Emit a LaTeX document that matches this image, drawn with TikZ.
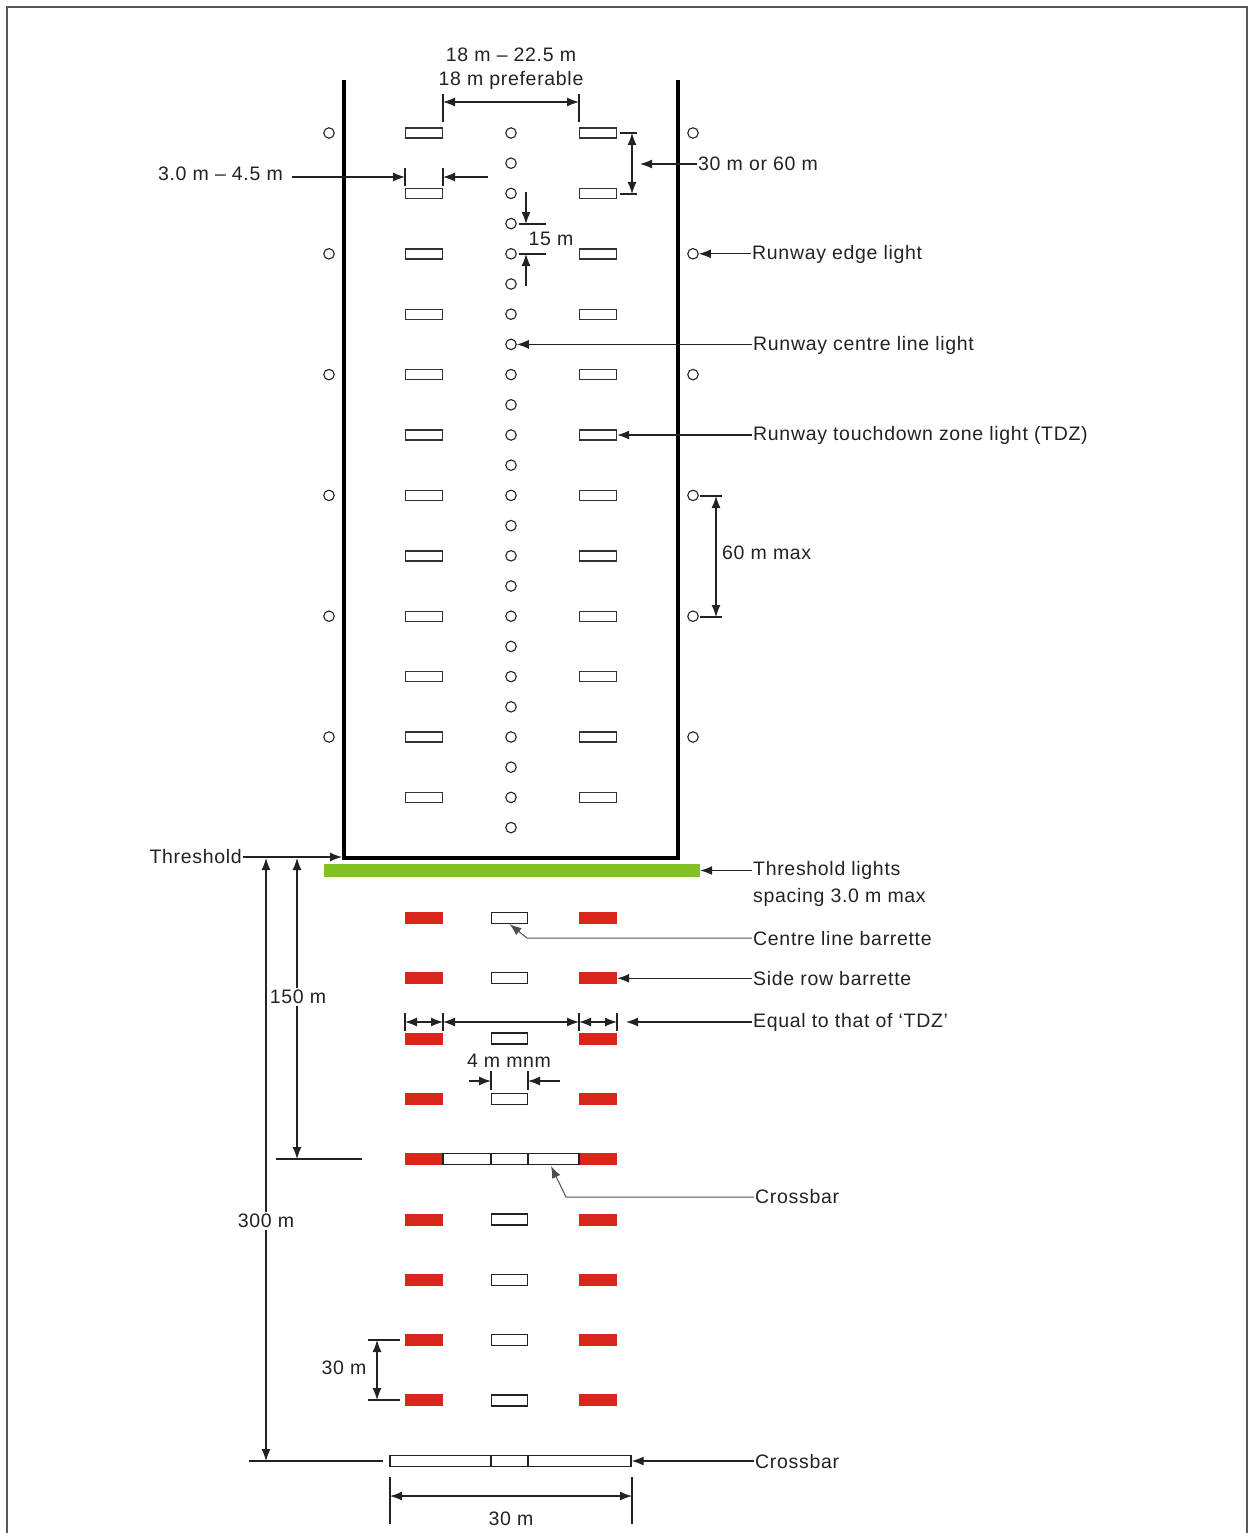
\documentclass[tikz,border=0pt]{standalone}
\usepackage{fontspec}
\setmainfont[LetterSpace=3.5]{Liberation Sans}
\usetikzlibrary{arrows.meta,calc}
\definecolor{barred}{HTML}{D9261C}
\definecolor{thrgreen}{HTML}{82C226}
\definecolor{ink}{HTML}{222222}
\begin{document}
\begin{tikzpicture}[x=1pt,y=-1pt,
  >={Latex[length=12pt,width=9pt]},
  ln/.style={line width=1.2pt, draw=ink},
  edgelt/.style={circle, draw=ink, line width=1.1pt, minimum size=10.5pt, inner sep=0pt},
  tdzbox/.style={rectangle, draw=black!80, line width=1.4pt, minimum width=37pt, minimum height=10pt, inner sep=0pt},
  redbox/.style={rectangle, fill=barred, minimum width=38pt, minimum height=12pt, inner sep=0pt},
  whitebox/.style={rectangle, draw=ink, fill=white, line width=1.3pt, minimum width=36pt, minimum height=11pt, inner sep=0pt},
  lbl/.style={font=\fontsize{19.5}{23}\selectfont, text=ink, inner sep=1pt},
  gapl/.style={lbl, fill=white, inner sep=2pt}]
\useasboundingbox (0,0) rectangle (1249,1533);
% frame
\draw[line width=2pt, draw=black!65] (7,1545) -- (7,7) -- (1247,7) -- (1247,1545);
% runway
\draw[line width=4pt, line join=miter] (344,80) -- (344,858) -- (678,858) -- (678,80);
% edge lights
\foreach \i in {0,...,5} {
  \node[edgelt] (el\i) at (329,{133+120.8*\i}) {};
  \node[edgelt] (er\i) at (693,{133+120.8*\i}) {};
}
% centre line lights
\foreach \i in {0,...,23} \node[edgelt] (c\i) at (511,{133+30.2*\i}) {};
% TDZ lights
\foreach \i in {0,...,11} {
  \node[tdzbox] (tl\i) at (424,{133+60.4*\i}) {};
  \node[tdzbox] (tr\i) at (598,{133+60.4*\i}) {};
}
% top dimension
\draw[ln] (443,94) -- (443,122);
\draw[ln] (579,94) -- (579,122);
\draw[ln,<->] (443,102) -- (579,102);
\node[lbl] (t18a) at (511,55) {18 m – 22.5 m};
\node[lbl] (t18b) at (511,80) {18 m preferable};
% 3.0 - 4.5 m
\node[lbl,anchor=east] (t3) at (284,174) {3.0 m – 4.5 m};
\draw[ln] (405,168) -- (405,186);
\draw[ln] (443,168) -- (443,186);
\draw[ln,->] (292,177) -- (405,177);
\draw[ln,->] (488,177) -- (443,177);
% 30 m or 60 m
\draw[ln] (620,133) -- (637,133);
\draw[ln] (620,194) -- (637,194);
\draw[ln,<->] (632,133) -- (632,194);
\node[lbl,anchor=west] (t30) at (697,164) {30 m or 60 m};
\draw[ln,->] (t30.west) -- (640,164);
% 15 m
\draw[ln] (519,224) -- (546,224);
\draw[ln] (519,254) -- (546,254);
\draw[ln,->] (526,192) -- (526,224);
\draw[ln,->] (526,286) -- (526,254);
\node[lbl] (t15) at (551,239) {15 m};
% labels with leaders
\node[lbl,anchor=west] (lEdge) at (751,254) {Runway edge light};
\draw[ln,->] (lEdge.west |- er1.east) -- (er1.east);
\node[lbl,anchor=west] (lCL) at (752,345) {Runway centre line light};
\draw[ln,->] (lCL.west |- c7.east) -- (c7.east);
\node[lbl,anchor=west] (lTDZ) at (752,435) {Runway touchdown zone light (TDZ)};
\draw[ln,->] (lTDZ.west |- tr5.east) -- (tr5.east);
% 60 m max
\draw[ln] (700,496) -- (722,496);
\draw[ln] (700,617) -- (722,617);
\draw[ln,<->] (716,496) -- (716,617);
\node[lbl,anchor=west] (t60) at (721,553) {60 m max};
% threshold
\node[lbl,anchor=east] (lThr) at (243,857) {Threshold};
\draw[ln,->] (lThr.east) -- (342,857);
\node[rectangle, fill=thrgreen, minimum width=376pt, minimum height=13pt, inner sep=0pt] (green) at (512,870.5) {};
\node[lbl,anchor=west] (lThl1) at (752,870) {Threshold lights};
\node[lbl,anchor=west] (lThl2) at (752,897) {spacing 3.0 m max};
\draw[ln,->] (lThl1.west |- green.east) -- (green.east);
% barrettes
\foreach \k in {0,...,8} {
  \node[redbox] (rl\k) at (424,{918+60.3*\k}) {};
  \node[redbox] (rr\k) at (598,{918+60.3*\k}) {};
}
\foreach \k in {0,1,2,3,5,6,7,8} \node[whitebox] (cw\k) at (509.5,{918+60.3*\k}) {};
% crossbar at 150 m
\node[whitebox, minimum width=136pt] (cb1) at (511,1159.2) {};
\draw[ln] (491,1153.7) -- (491,1164.7);
\draw[ln] (528,1153.7) -- (528,1164.7);
% centre line barrette label
\node[lbl,anchor=west] (lCLB) at (752,939) {Centre line barrette};
\draw[line width=1pt, draw=ink!80, ->] (752,938) -- (527,938) -- (cw0.south);
% side row barrette
\node[lbl,anchor=west] (lSRB) at (752,979) {Side row barrette};
\draw[ln,->] (lSRB.west |- rr1.east) -- (rr1.east);
% equal to that of TDZ
\foreach \x in {405,443,579,617} \draw[ln] (\x,1013) -- (\x,1031);
\draw[ln,<->] (405,1022) -- (443,1022);
\draw[ln,<->] (443,1022) -- (579,1022);
\draw[ln,<->] (579,1022) -- (617,1022);
\node[lbl,anchor=west] (lEq) at (752,1022) {Equal to that of ‘TDZ’};
\draw[ln,->] (752,1022) -- (626,1022);
% 4 m mnm
\node[lbl] (t4) at (509,1061) {4 m mnm};
\draw[ln] (491,1071) -- (491,1090);
\draw[ln] (528,1071) -- (528,1090);
\draw[ln,->] (469,1081) -- (491,1081);
\draw[ln,->] (560,1081) -- (528,1081);
% 150 m and 300 m
\draw[ln] (276,1159) -- (362,1159);
\draw[ln] (249,1461) -- (383,1461);
\draw[ln,<->] (297,858) -- (297,1159);
\draw[ln,<->] (266,858) -- (266,1461);
\node[gapl] (t150) at (298,997) {150 m};
\node[gapl] (t300) at (266,1221) {300 m};
% crossbar label
\node[lbl,anchor=west] (lCB1) at (754,1197) {Crossbar};
\draw[line width=1pt, draw=ink!80, ->] (754,1197) -- (566,1197) -- (551,1166);
% 30 m spacing
\draw[ln] (368,1340) -- (400,1340);
\draw[ln] (368,1400) -- (400,1400);
\draw[ln,<->] (377,1340) -- (377,1400);
\node[lbl] (t30s) at (344,1368) {30 m};
% bottom crossbar
\node[whitebox, minimum width=241pt] (cb2) at (510.5,1461) {};
\draw[ln] (491,1455.5) -- (491,1466.5);
\draw[ln] (528,1455.5) -- (528,1466.5);
\node[lbl,anchor=west] (lCB2) at (754,1462) {Crossbar};
\draw[ln,->] (lCB2.west |- cb2.east) -- (cb2.east);
% 30 m width
\draw[ln] (390,1477) -- (390,1524);
\draw[ln] (632,1477) -- (632,1524);
\draw[ln,<->] (390,1496) -- (632,1496);
\node[lbl] (t30w) at (511,1519) {30 m};
\end{tikzpicture}
\end{document}
